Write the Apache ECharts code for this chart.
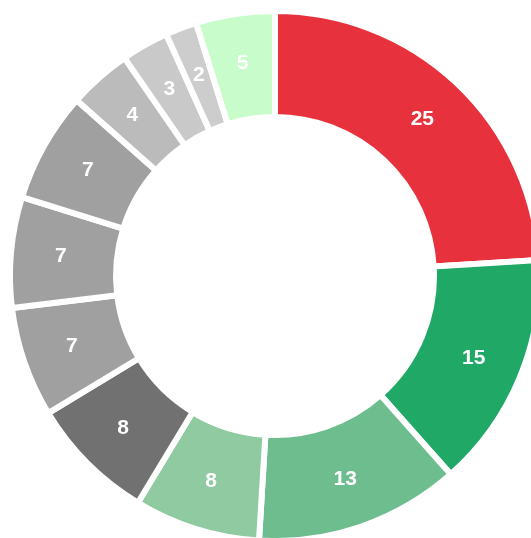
<!DOCTYPE html>
<html>
<head>
<meta charset="utf-8">
<script src="https://cdn.jsdelivr.net/npm/echarts@6/dist/echarts.min.js"></script>
<style>
html,body{margin:0;padding:0;background:#fff;}
#chart{width:531px;height:538px;}
</style>
</head>
<body>
<div id="chart"></div>
<script>
const categories = ['A','B','C','D','E','F','G','H','I','J','K','L'];
const values = [25, 15, 13, 8, 8, 7, 7, 7, 4, 3, 2, 5];
const colors = ['#e7313c','#1fa866','#6dbd8f','#8fcaa1','#717171','#a0a0a0','#a0a0a0','#a0a0a0','#bbbbbb','#c9c9c9','#cdcdcd','#c9fccb'];

const chart = echarts.init(document.getElementById('chart'), null, {renderer:'canvas'});
chart.setOption({
  animation: false,
  series: [{
    type: 'pie',
    center: [275, 276],
    radius: [159, 265],
    startAngle: 90,
    clockwise: true,
    avoidLabelOverlap: false,
    itemStyle: { borderColor: '#ffffff', borderWidth: 6 },
    label: {
      show: true,
      position: 'inside',
      color: '#ffffff',
      fontFamily: 'Liberation Sans, Arial, sans-serif',
      fontWeight: 'bold',
      fontSize: 21,
      formatter: '{c}'
    },
    labelLine: { show: false },
    emphasis: { disabled: true },
    data: categories.map((c, i) => ({ name: c, value: values[i], itemStyle: { color: colors[i] } }))
  }]
});
</script>
</body>
</html>
